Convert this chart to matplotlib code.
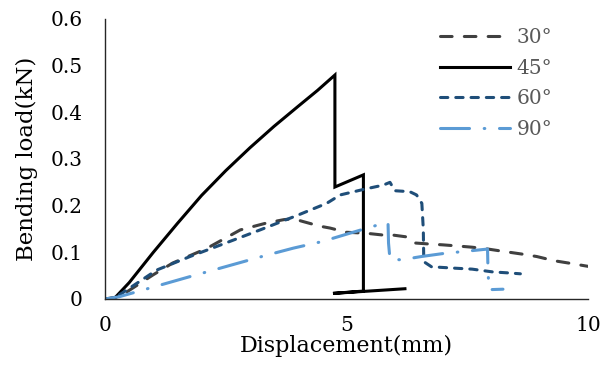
import matplotlib.pyplot as plt

plt.rcParams['font.family'] = ['DejaVu Serif']

# 30 deg
x30 = [0, 0.3, 1.0, 1.4, 2.1, 2.8, 3.35, 3.7, 3.9, 4.1, 4.45, 4.66, 5.0, 5.4, 5.76,
       5.96, 6.25, 6.42, 6.69, 7.0, 7.25, 7.6, 7.93, 8.25, 8.65, 8.94, 9.3, 9.6, 10.0]
y30 = [0, 0.005, 0.052, 0.077, 0.108, 0.148, 0.163, 0.17, 0.172, 0.166, 0.156, 0.152,
       0.143, 0.141, 0.137, 0.137, 0.133, 0.12, 0.118, 0.116, 0.114, 0.111, 0.107,
       0.102, 0.096, 0.091, 0.082, 0.077, 0.07]

# 45 deg
x45 = [0, 0.2, 0.5, 1.0, 1.5, 2.0, 2.5, 3.0, 3.5, 4.0, 4.4, 4.76, 4.76, 5.35, 5.35,
       4.72, 6.21]
y45 = [0, 0.002, 0.035, 0.1, 0.162, 0.222, 0.275, 0.324, 0.37, 0.413, 0.447, 0.48,
       0.24, 0.266, 0.017, 0.012, 0.022]

# 60 deg
x60 = [0, 0.2, 1.07, 1.76, 2.5, 3.21, 4.0, 4.59, 4.87, 5.4, 5.76, 5.9, 6.0, 6.31, 6.45,
       6.56, 6.59, 6.6, 6.76, 7.25, 7.6, 8.03, 8.34, 8.6]
y60 = [0, 0.002, 0.062, 0.091, 0.12, 0.148, 0.18, 0.205, 0.223, 0.236, 0.244, 0.25,
       0.232, 0.23, 0.223, 0.205, 0.15, 0.08, 0.069, 0.066, 0.064, 0.058, 0.056, 0.054]

# 90 deg
x90 = [0, 0.3, 1.76, 3.35, 3.9, 4.49, 5.07, 5.66, 5.86, 5.87, 5.9, 6.14, 6.55, 7.04,
       7.35, 7.92, 7.93, 7.95, 8.24]
y90 = [0, 0.005, 0.048, 0.094, 0.109, 0.123, 0.141, 0.159, 0.163, 0.12, 0.085, 0.084,
       0.091, 0.098, 0.101, 0.107, 0.06, 0.02, 0.021]

labels = ['30°', '45°', '60°', '90°']

fig = plt.figure(figsize=(6.14, 3.65), dpi=100)
ax = fig.add_axes([105 / 614, 1 - 299 / 365, 483 / 614, 280 / 365])

lw = 2.2
ax.plot(x30, y30, color='#404040', lw=lw, dashes=(3.8, 4.0), dash_capstyle='round',
        label=labels[0])
ax.plot(x45, y45, color='black', lw=lw, solid_joinstyle='miter', label=labels[1])
ax.plot(x60, y60, color='#1F4E79', lw=lw, dashes=(2.4, 2.6), dash_capstyle='round',
        label=labels[2])
ax.plot(x90, y90, color='#5B9BD5', lw=lw, dashes=(9.5, 4.8, 0.2, 4.8),
        dash_capstyle='round', label=labels[3])

ax.set_xlim(0, 10)
ax.set_ylim(0, 0.6)
ax.set_xticks([0, 5, 10])
ax.set_xticklabels(['0', '5', '10'])
ax.set_yticks([0, 0.1, 0.2, 0.3, 0.4, 0.5, 0.6])
ax.set_yticklabels(['0', '0.1', '0.2', '0.3', '0.4', '0.5', '0.6'])
ax.tick_params(axis='both', length=0, labelsize=14.5)
ax.tick_params(axis='x', pad=12)
ax.tick_params(axis='y', pad=16)
for s in ['top', 'right']:
    ax.spines[s].set_visible(False)
for s in ['left', 'bottom']:
    ax.spines[s].set_linewidth(1.0)
    ax.spines[s].set_color('#262626')

ax.set_xlabel('Displacement(mm)', fontsize=16, labelpad=0)
ax.set_ylabel('Bending load(kN)', fontsize=16.5, labelpad=9)

leg = ax.legend(loc='upper left', bbox_to_anchor=(440 / 614, 1 - 28 / 365),
                bbox_transform=fig.transFigure, frameon=False, fontsize=14.5,
                handlelength=3.5, handletextpad=0.3, labelspacing=0.58,
                borderpad=0, borderaxespad=0)
for t in leg.get_texts():
    t.set_color('#595959')

fig.savefig('out.png', dpi=100)
